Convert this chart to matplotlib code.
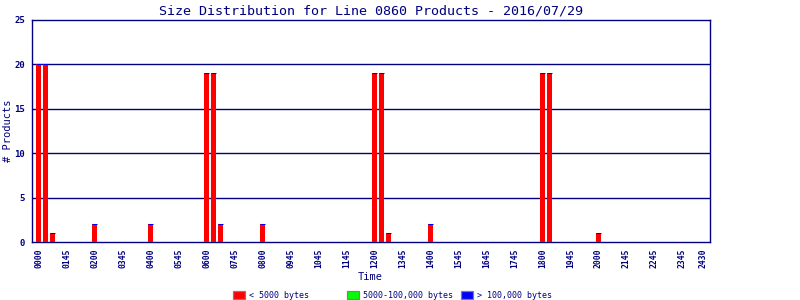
import matplotlib
matplotlib.use("Agg")
import matplotlib.pyplot as plt
from matplotlib.patches import Rectangle
import numpy as np

# Product counts per 15-minute slot (96 slots, 00:00 .. 23:45)
small_counts = [20, 20, 1, 0, 0, 0, 0, 0, 2, 0, 0, 0, 0, 0, 0, 0,
                2, 0, 0, 0, 0, 0, 0, 0, 19, 19, 2, 0, 0, 0, 0, 0,
                2, 0, 0, 0, 0, 0, 0, 0, 0, 0, 0, 0, 0, 0, 0, 0,
                19, 19, 1, 0, 0, 0, 0, 0, 2, 0, 0, 0, 0, 0, 0, 0,
                0, 0, 0, 0, 0, 0, 0, 0, 19, 19, 0, 0, 0, 0, 0, 0,
                1, 0, 0, 0, 0, 0, 0, 0, 0, 0, 0, 0, 0, 0, 0, 0]
medium_counts = [0] * 96
large_counts = [0] * 96

tick_slots = [0, 4, 8, 12, 16, 20, 24, 28, 32, 36, 40, 44, 48, 52, 56, 60,
              64, 68, 72, 76, 80, 84, 88, 92, 95]
tick_labels = ['0000', '0145', '0200', '0345', '0400', '0545', '0600', '0745',
               '0800', '0945', '1045', '1145', '1200', '1345', '1400', '1545',
               '1645', '1745', '1800', '1945', '2000', '2145', '2245', '2345',
               '2430']
y_ticks = [0, 5, 10, 15, 20, 25]
legend_labels = ['< 5000 bytes', '5000-100,000 bytes', '> 100,000 bytes']

NAVY = '#000080'
RED = '#FF0000'
GREEN = '#00FF00'
BLUE = '#0000FF'
FONT = 'DejaVu Sans Mono'

W, H = 800, 300
fig = plt.figure(figsize=(8, 3), dpi=100)
ax = fig.add_axes([32 / W, 1 - 242 / H, (710 - 32) / W, (242 - 20) / H])

x = np.arange(len(small_counts))
small = np.array(small_counts)
medium = np.array(medium_counts)
large = np.array(large_counts)
bw = 0.83

ax.bar(x, small, width=bw, color=RED, linewidth=0, zorder=3)
ax.bar(x, medium, width=bw, bottom=small, color=GREEN, linewidth=0, zorder=3)
total = small + medium
mask = total > 0
ax.bar(x[mask], large[mask], width=bw * 0.9, bottom=total[mask], color=BLUE,
       edgecolor=BLUE, linewidth=0.75, zorder=4)

ax.set_xlim(-0.93, 95.93)
ax.set_ylim(0, 25)
ax.set_yticks(y_ticks)
ax.set_yticklabels([str(v) for v in y_ticks], fontsize=6.5, color=NAVY,
                   family=FONT, fontweight='bold')
ax.set_xticks(tick_slots)
ax.set_xticklabels(tick_labels, rotation=90, fontsize=5.8, color=NAVY,
                   family=FONT, fontweight='bold')
ax.tick_params(axis='both', length=0)
ax.tick_params(axis='x', pad=4.5)
ax.tick_params(axis='y', pad=5)

for v in y_ticks[1:-1]:
    ax.axhline(v, color=NAVY, linewidth=1.0, zorder=2)
for s in ax.spines.values():
    s.set_color(NAVY)
    s.set_linewidth(1.0)

ax.set_title('Size Distribution for Line 0860 Products - 2016/07/29',
             fontsize=9.6, color=NAVY, family=FONT, pad=4)
ax.set_xlabel('Time', fontsize=7.5, color=NAVY, family=FONT)
ax.xaxis.set_label_coords(0.4985, -0.135)
ax.set_ylabel('# Products', fontsize=7.5, color=NAVY, family=FONT)
ax.yaxis.set_label_coords(-0.028, 0.5)

# legend at the bottom
leg_colors = [RED, GREEN, BLUE]
leg_x = [233, 347, 461]
for cx, col, lab in zip(leg_x, leg_colors, legend_labels):
    fig.add_artist(Rectangle((cx / W, 1 - 299 / H), 12 / W, 8 / H,
                             transform=fig.transFigure, facecolor=col,
                             edgecolor='#808080', linewidth=0.9))
    fig.text((cx + 16) / W, 1 - 295 / H, lab, fontsize=6, color=NAVY,
             family=FONT, va='center', ha='left')

fig.savefig('out.png', dpi=100)
